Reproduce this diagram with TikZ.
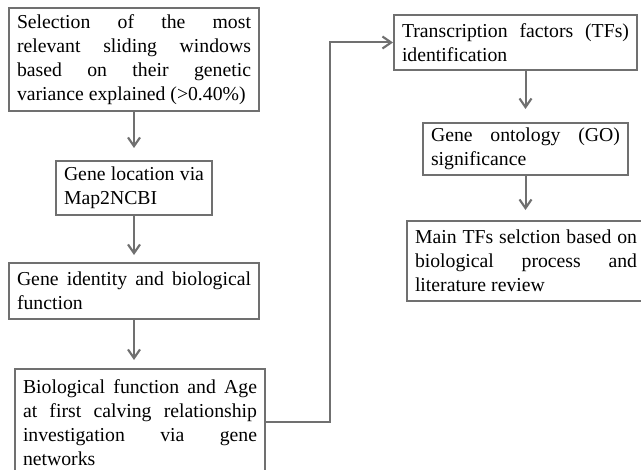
\documentclass[tikz,border=0pt]{standalone}
\usepackage{fontspec}
\setmainfont{Liberation Serif}
\usepackage{tikz}
\usetikzlibrary{arrows.meta}

\definecolor{linegray}{RGB}{112,112,112}
\hbadness=10000

\tikzset{
  stepbox/.style={draw=linegray, line width=1.5pt, rectangle, anchor=north west,
    align=justify, inner xsep=6pt, inner ysep=3pt,
    font=\fontsize{14.8}{18}\selectfont},
  link/.style={draw=linegray, line width=1.5pt,
    -{Straight Barb[length=6.5pt,width=9pt,line width=1.6pt]}}
}

\begin{document}
\begin{tikzpicture}[x=0.75pt,y=-0.75pt]

\clip (0,0) rectangle (641,470);

\node[stepbox, text width=175.5pt, minimum height=77.25pt] (sel) at (8,7)
  {Selection of the most\linebreak relevant sliding windows\linebreak based on their genetic\linebreak variance explained (>0.40\%)};
\node[stepbox, text width=105pt, minimum height=40.5pt] (loc) at (55,160)
  {Gene location via\linebreak Map2NCBI};
\node[stepbox, text width=175.5pt, minimum height=42pt] (gid) at (8,262)
  {Gene identity and biological\linebreak function};
\node[stepbox, text width=175.5pt, minimum height=80pt] (bio) at (14,368)
  {Biological function and Age\linebreak at first calving relationship\linebreak investigation via gene\linebreak networks};

\node[stepbox, text width=170.25pt, minimum height=41.25pt] (tf) at (393,14)
  {Transcription factors (TFs)\linebreak identification};
\node[stepbox, text width=141.75pt, minimum height=39pt] (go) at (422,122)
  {Gene ontology (GO)\linebreak significance};
\node[stepbox, text width=166.5pt, minimum height=60pt] (tfsel) at (406,220)
  {Main TFs selction based on\linebreak biological process and\linebreak literature review};

\coordinate (turn) at (330,0);

\draw[link, shorten >=9pt] (sel.south) -- (loc.north);
\draw[link, shorten >=5.25pt] (loc.south) -- (gid.north);
\draw[link, shorten >=6pt] (gid.south) -- (gid.south |- bio.north);
\draw[link] (bio.east) -- (bio.east -| turn) |- (tf.west);
\draw[link, shorten >=9.75pt] (tf.south -| go.north) -- (go.north);
\draw[link, shorten >=7.5pt] (go.south) -- (go.south |- tfsel.north);

\end{tikzpicture}
\end{document}
